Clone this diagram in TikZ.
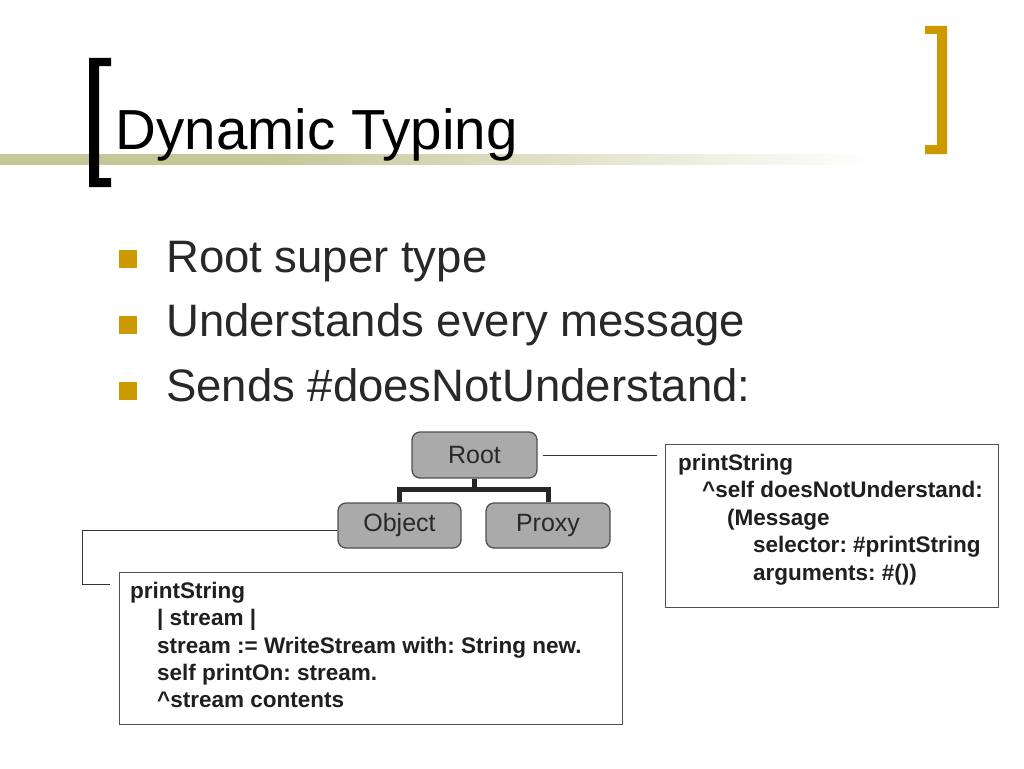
\documentclass[tikz,border=0pt]{standalone}
\usepackage{fontspec}
\setmainfont{Liberation Sans}
\usetikzlibrary{calc}
\definecolor{gold}{RGB}{204,153,0}
\definecolor{olive}{RGB}{198,198,152}
\definecolor{bodygray}{RGB}{40,40,40}
\definecolor{boxgray}{RGB}{170,170,170}
\definecolor{edgegray}{RGB}{80,80,80}
\pgfdeclarehorizontalshading{barshade}{100bp}{color(0bp)=(olive); color(25bp)=(olive); color(40bp)=(olive); color(75bp)=(white); color(100bp)=(white)}
\tikzset{
  bullettext/.style={anchor=base west, inner sep=0pt, text=bodygray, font=\fontsize{45.5}{54}\selectfont},
  bulletsq/.style={fill=gold, draw=none, minimum width=18pt, minimum height=18pt, inner sep=0pt},
  treebox/.style={draw=edgegray, line width=1.3pt, fill=boxgray, rounded corners=8pt, inner sep=0pt,
    text=bodygray, font=\fontsize{25}{30}\selectfont},
  treeline/.style={draw=black!85, line width=5pt, line join=miter},
  conn/.style={draw=black!80, line width=1pt},
  codebox/.style={draw=edgegray, line width=1pt, fill=white, inner sep=0pt},
  codeline/.style={anchor=base west, inner sep=0pt, text=black!88, font=\fontsize{22.5}{27}\selectfont\bfseries}
}
\frenchspacing
\begin{document}
\frenchspacing
\begin{tikzpicture}[x=1pt,y=-1pt]
\useasboundingbox (0,0) rectangle (1024,768);
% gradient bar
\shade[shading=barshade] (0,154) rectangle (880,164);
% brackets
\fill[black] (89,58) -- (111,58) -- (111,66) -- (99,66) -- (99,178) -- (111,178) -- (111,187) -- (89,187) -- cycle;
\fill[gold] (925,26) -- (947,26) -- (947,154) -- (925,154) -- (925,145) -- (937,145) -- (937,34) -- (925,34) -- cycle;
% title
\node[anchor=base west, inner sep=0pt, text=black, font=\fontsize{56.5}{60}\selectfont] (title) at (115.5,149) {Dynamic Typing};
% bullets
\node[bulletsq] (b1) at (128,259) {};
\node[bulletsq] (b2) at (128,325) {};
\node[bulletsq] (b3) at (128,391) {};
\node[bullettext] (t1) at (166,272) {Root super type};
\node[bullettext] (t2) at (166,336) {Understands every message};
\node[bullettext] (t3) at (166,401) {Sends \#doesNotUnderstand:};
% tree
\node[treebox, minimum width=125pt, minimum height=46pt] (root) at (474.5,455) {Root};
\node[treebox, minimum width=123pt, minimum height=45pt] (object) at (399.5,525.5) {Object};
\node[treebox, minimum width=124pt, minimum height=45pt] (proxy) at (548,525.5) {Proxy};
\coordinate (junction) at (474.5,489.5);
\draw[treeline] (root.south) -- (junction);
\draw[treeline] (object.north) |- (junction) -| (proxy.north);
% code boxes
\node[codebox, minimum width=333pt, minimum height=163pt, anchor=north west] (rightbox) at (665,444) {};
\node[codebox, minimum width=503pt, minimum height=152pt, anchor=north west] (leftbox) at (119,572) {};
% connectors
\coordinate (rc) at (657,455);
\draw[conn] ([xshift=5pt]root.east) -- (rc);
\coordinate (oc1) at (82,530);
\coordinate (oc2) at (110,584);
\draw[conn] ([yshift=-4.5pt]object.west) -- (oc1) -- (oc1 |- oc2) -- (oc2);
% right box text
\node[codeline] (r1) at (678,470) {printString};
\node[codeline] (r2) at (702,497.5) {\^{}self doesNotUnderstand:};
\node[codeline] (r3) at (727,525) {(Message};
\node[codeline] (r4) at (753,552.5) {selector: \#printString};
\node[codeline] (r5) at (753,580) {arguments: \#())};
% left box text
\node[codeline] (l1) at (130,598) {printString};
\node[codeline] (l2) at (157,625.5) {| stream |};
\node[codeline] (l3) at (157,653) {stream := WriteStream with: String new.};
\node[codeline] (l4) at (157,680) {self printOn: stream.};
\node[codeline] (l5) at (157,707) {\^{}stream contents};
\end{tikzpicture}
\end{document}
